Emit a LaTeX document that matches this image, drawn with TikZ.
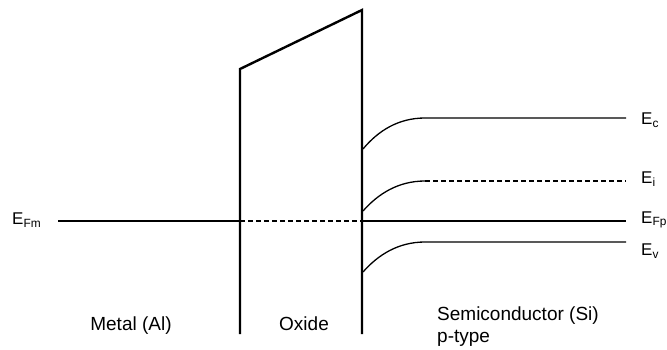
\documentclass[tikz,border=0pt]{standalone}
\usepackage{fontspec}
\setmainfont{Liberation Sans}
\begin{document}
\begin{tikzpicture}[x=1pt,y=-1pt,
  wall/.style={line width=2.4pt},
  level/.style={line width=1.3pt},
  dlevel/.style={line width=1.3pt,dash pattern=on 5pt off 3pt},
  lbl/.style={font=\fontsize{17}{19}\selectfont,anchor=west,inner sep=0pt},
  region/.style={font=\fontsize{19}{22}\selectfont,anchor=base,inner sep=0pt}]
\useasboundingbox (0,0) rectangle (667,349);
% oxide
\coordinate (oxBL) at (240,334);
\coordinate (oxTL) at (240,69);
\coordinate (oxTR) at (362,10);
\coordinate (oxBR) at (362,334);
\draw[wall,line join=miter] (oxBL) -- (oxTL) -- (oxTR) -- (oxBR);
% Fermi levels
\coordinate (mL) at (58,221);
\coordinate (mR) at (240,221);
\coordinate (sL) at (362,221);
\coordinate (sR) at (626,221);
\draw[level] (mL) -- (mR);
\draw[line width=1.1pt,dash pattern=on 5pt off 3pt] (mR) -- (sL);
\draw[level] (sL) -- (sR);
% Ec
\coordinate (ec0) at (363,149);
\coordinate (ec1) at (425,118);
\coordinate (ec2) at (626,118);
\draw[level] (ec0) .. controls (378,131) and (398,118) .. (ec1) -- (ec2);
% Ei
\coordinate (ei0) at (363,211);
\coordinate (ei1) at (425,181);
\coordinate (ei2) at (626,181);
\draw[level] (ei0) .. controls (378,194) and (398,181) .. (ei1);
\draw[dlevel] (ei1) -- (ei2);
% Ev
\coordinate (ev0) at (363,272);
\coordinate (ev1) at (425,242);
\coordinate (ev2) at (626,242);
\draw[level] (ev0) .. controls (378,255) and (398,242) .. (ev1) -- (ev2);
% labels
\node[lbl] (lEFm) at (12,220) {E\textsubscript{Fm}};
\node[lbl] (lEc) at (641,120) {E\textsubscript{c}};
\node[lbl] (lEi) at (641,179) {E\textsubscript{i}};
\node[lbl] (lEFp) at (641,220) {E\textsubscript{Fp}};
\node[lbl] (lEv) at (641,251) {E\textsubscript{v}};
\node[region] (tMetal) at (131,330) {Metal (Al)};
\node[region] (tOxide) at (304,330) {Oxide};
\node[region,anchor=base west] (tSemi) at (437,320) {Semiconductor (Si)};
\node[region,anchor=base west] (tPtype) at (437,342) {p-type};
\end{tikzpicture}
\end{document}
